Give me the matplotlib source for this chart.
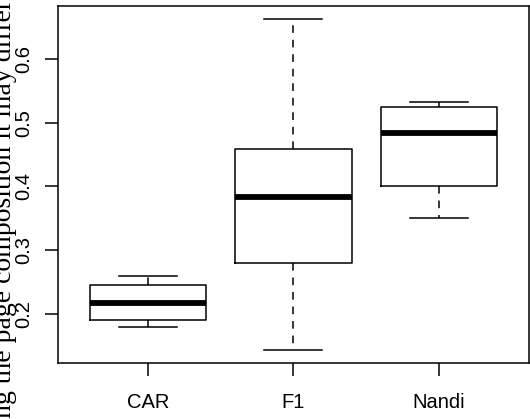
import matplotlib
matplotlib.use("Agg")
import matplotlib.pyplot as plt

# box statistics per group
groups = ["CAR", "F1", "Nandi"]
whisker_low = [0.180, 0.143, 0.350]
q1 = [0.190, 0.280, 0.400]
median = [0.217, 0.383, 0.484]
q3 = [0.246, 0.459, 0.524]
whisker_high = [0.260, 0.662, 0.532]

yticks = [0.2, 0.3, 0.4, 0.5, 0.6]
ylabel = "During the page composition it may differ"

stats = []
for i, g in enumerate(groups):
    stats.append(dict(label=g, whislo=whisker_low[i], q1=q1[i], med=median[i],
                      q3=q3[i], whishi=whisker_high[i], fliers=[]))

plt.rcParams["font.family"] = ["Liberation Sans", "DejaVu Sans"]

fig = plt.figure(figsize=(5.30, 4.19), dpi=100)
ax = fig.add_axes([0.1089, 0.1325, 0.8892, 0.8532])

ax.bxp(stats, positions=[1, 2, 3], widths=0.8, showfliers=False,
       boxprops=dict(color="black", linewidth=1.1),
       medianprops=dict(color="black", linewidth=4.2, solid_capstyle="butt"),
       whiskerprops=dict(color="black", linewidth=1.1, linestyle=(0, (5, 4.5))),
       capprops=dict(color="black", linewidth=1.1),
       capwidths=0.4)

ax.set_xlim(0.38, 3.62)
ax.set_ylim(0.1224, 0.6828)
ax.set_xticks([1, 2, 3])
ax.set_xticklabels(groups)
ax.set_yticks(yticks)
ax.set_yticklabels([str(t) for t in yticks], rotation=90, va="center")

for s in ax.spines.values():
    s.set_linewidth(1.1)
ax.tick_params(axis="both", length=9.5, width=1.1, labelsize=14.5)
ax.tick_params(axis="x", pad=12)
ax.tick_params(axis="y", pad=8)

# axis title sits partly past the left edge of the figure
fig.text(0.021, 1.0, ylabel, rotation=90, rotation_mode="anchor",
         ha="right", va="baseline", fontsize=20, family="Liberation Serif")

fig.savefig("out.png", dpi=100)
